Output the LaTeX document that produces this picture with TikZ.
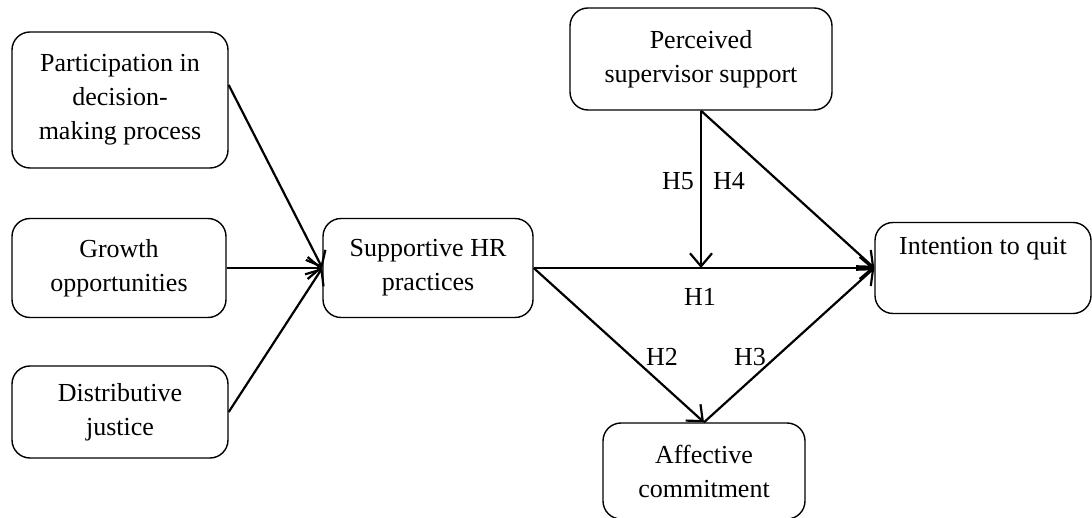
\documentclass[tikz,border=0pt]{standalone}
\usepackage{fontspec}
\setmainfont{Liberation Serif}
\usetikzlibrary{arrows.meta}
\tikzset{
  box/.style={draw, line width=1.4pt, rounded corners=18pt, align=center, inner sep=0pt,
    font=\fontsize{26}{34}\selectfont},
  lab/.style={font=\fontsize{26}{28}\selectfont, inner sep=0pt},
  arr/.style={line width=2.2pt, -{Straight Barb[length=13pt,width=22pt,line width=2.2pt]}},
  ln/.style={line width=2.2pt}
}
\begin{document}
\begin{tikzpicture}[x=1pt,y=-1pt]
\useasboundingbox (0,0) rectangle (1092,518);
\node[box, minimum width=216pt, minimum height=136pt] (pd) at (120,100) {Participation in\\decision-\\making process};
\node[box, minimum width=214pt, minimum height=99pt] (go) at (119,268) {Growth\\opportunities};
\node[box, minimum width=216pt, minimum height=92pt] (dj) at (120,412) {Distributive\\justice};
\node[box, minimum width=210pt, minimum height=99pt] (hr) at (428,268) {Supportive HR\\practices};
\node[box, minimum width=262pt, minimum height=102pt] (ps) at (701,59) {Perceived\\supervisor support};
\node[box, minimum width=216pt, minimum height=91pt] (it) at (983,268) {Intention to quit\\\strut};
\node[box, minimum width=202pt, minimum height=96pt] (ac) at (704,471) {Affective\\commitment};
\coordinate (m) at (ps.south |- hr.east);
\draw[arr] ([yshift=15pt]pd.east) -- (hr.west);
\draw[arr] (go.east) -- (hr.west);
\draw[arr] (dj.east) -- (hr.west);
\draw[arr] (hr.east) -- (it.west);
\draw[arr] (ps.south) -- (m);
\draw[arr] (ps.south) -- (it.west);
\draw[arr] (hr.east) -- (ac.north);
\draw[arr] (ac.north) -- (it.west);
\node[lab] (h1) at (700,297) {H1};
\node[lab] (h2) at (662,357) {H2};
\node[lab] (h3) at (750,357) {H3};
\node[lab] (h5) at (678,181) {H5};
\node[lab] (h4) at (729,181) {H4};
\end{tikzpicture}
\end{document}
